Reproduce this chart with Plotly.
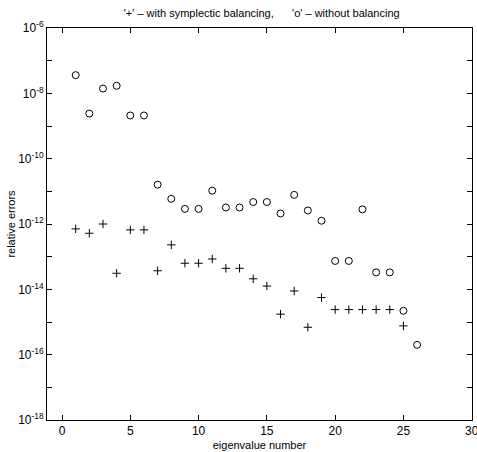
import plotly.graph_objects as go

idx_o = list(range(1, 27))
err_o = [3.6e-8, 2.4e-9, 1.4e-8, 1.7e-8, 2.1e-9, 2.1e-9, 1.6e-11, 5.9e-12, 2.9e-12, 2.9e-12,
         1.05e-11, 3.2e-12, 3.2e-12, 4.7e-12, 4.7e-12, 2.1e-12, 7.8e-12, 2.6e-12, 1.26e-12,
         7.4e-14, 7.4e-14, 2.8e-12, 3.3e-14, 3.3e-14, 2.2e-15, 2.0e-16]
idx_p = list(range(1, 26))
err_p = [7.1e-13, 5.2e-13, 1.0e-12, 3.1e-14, 6.6e-13, 6.6e-13, 3.7e-14, 2.3e-13, 6.3e-14, 6.3e-14,
         8.5e-14, 4.4e-14, 4.4e-14, 2.1e-14, 1.26e-14, 1.74e-15, 8.9e-15, 6.9e-16, 5.6e-15,
         2.4e-15, 2.4e-15, 2.4e-15, 2.4e-15, 2.4e-15, 7.6e-16]
x_ticks = [0, 5, 10, 15, 20, 25, 30]
y_exps = list(range(-18, -5))

fig = go.Figure()
fig.add_trace(go.Scatter(x=idx_o, y=err_o, mode="markers",
                         marker=dict(symbol="circle-open", size=7, color="black",
                                     line=dict(width=1, color="black"))))
fig.add_trace(go.Scatter(x=idx_p, y=err_p, mode="markers",
                         marker=dict(symbol="cross-thin-open", size=6, color="black",
                                     line=dict(width=1, color="black"))))

font = dict(family="Liberation Sans, Arial, sans-serif", size=11, color="black")
fig.update_layout(
    width=477, height=452,
    margin=dict(l=47, r=5, t=28, b=32),
    paper_bgcolor="white", plot_bgcolor="white",
    showlegend=False,
    font=font,
    title=dict(text="'+' – with symplectic balancing,&nbsp;&nbsp;&nbsp;&nbsp;&nbsp; 'o' – without balancing",
               x=(121.7 + 401.7) / 2 / 477, xanchor="center", xref="container", y=1 - 13 / 452,
               yref="container", yanchor="middle",
               font=dict(family="Liberation Sans, Arial, sans-serif", size=11, color="black")),
)
fig.update_xaxes(range=[-1.1, 30.02], tickvals=x_ticks, ticks="inside", ticklen=5,
                 showgrid=False, zeroline=False, showline=True, linecolor="black",
                 linewidth=1, mirror="ticks", tickcolor="black", automargin=False,
                 tickfont=dict(size=12), ticklabeloverflow="allow",
                 title=dict(text="eigenvalue number", standoff=3,
                            font=dict(size=11)))
fig.update_yaxes(type="log", range=[-18, -6],
                 tickvals=[10.0 ** e for e in y_exps],
                 ticktext=[("10<sup>%d</sup>" % e) if e % 2 == 0 else "" for e in y_exps],
                 ticks="inside", ticklen=5, showgrid=False, zeroline=False, showline=True,
                 linecolor="black", linewidth=1, mirror="ticks", tickcolor="black",
                 automargin=False, tickfont=dict(size=12), ticklabeloverflow="allow",
                 title=dict(text="relative errors", standoff=0, font=dict(size=11)))

fig.write_html("out.html", config={"displayModeBar": False},
               post_script="document.body.style.margin='0px';")
